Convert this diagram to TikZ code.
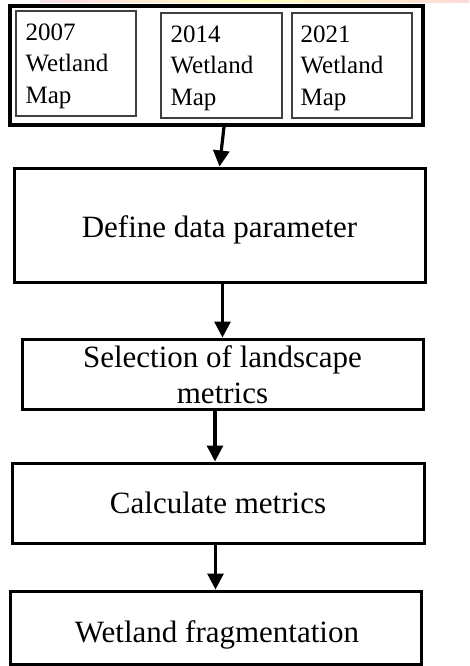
\documentclass[tikz,border=0pt]{standalone}
\usepackage{fontspec}
\setmainfont{Liberation Serif}
\usetikzlibrary{arrows.meta,calc}

\pgfdeclarehorizontalshading{topstrip}{100bp}{
  color(0bp)=(white);
  color(10bp)=(blue!15);
  color(30bp)=(red!12);
  color(50bp)=(yellow!25);
  color(75bp)=(red!15);
  color(100bp)=(red!20)}

\begin{document}
\begin{tikzpicture}[x=1pt,y=-1pt,
  bigbox/.style={draw,line width=3pt,inner sep=0pt,fill=white},
  mapbox/.style={draw=black!75,line width=1.3pt,inner sep=0pt},
  maptext/.style={anchor=north west,align=left,inner sep=0pt,
    font=\fontsize{25}{31.5}\selectfont},
  boxtext/.style={anchor=base,inner sep=0pt,align=center,
    font=\fontsize{31}{36}\selectfont},
  flow/.style={line width=3.2pt,-{Triangle[length=16pt,width=16pt]}}]
\useasboundingbox (0,0) rectangle (469,666);
\fill[white] (0,0) rectangle (469,666);
\shade[shading=topstrip] (40,0) rectangle (469,2.5);

% input maps
\node[bigbox,line width=3.6pt,minimum width=413pt,minimum height=119pt] (maps) at (216.5,65.5) {};
\node[mapbox,minimum width=120pt,minimum height=105pt] (m1) at (76,63.5) {};
\node[mapbox,minimum width=121pt,minimum height=105pt] (m2) at (221.5,65.5) {};
\node[mapbox,minimum width=120pt,minimum height=105pt] (m3) at (352,65.5) {};
\node[maptext] (t1) at ([xshift=10pt,yshift=-13pt]m1.north west) {2007\\Wetland\\Map};
\node[maptext] (t2) at ([xshift=10pt,yshift=-13pt]m2.north west) {2014\\Wetland\\Map};
\node[maptext] (t3) at ([xshift=9pt,yshift=-13pt]m3.north west) {2021\\Wetland\\Map};

% processing steps
\node[bigbox,minimum width=411pt,minimum height=114pt] (define) at (219.5,225) {};
\node[boxtext] (tdefine) at ([yshift=-12pt]define.center) {Define data parameter};

\node[bigbox,minimum width=401pt,minimum height=70pt] (sel) at (222.5,374) {};
\node[boxtext] (tsel) at ([yshift=-29pt]sel.center) {Selection of landscape\\metrics};

\node[bigbox,minimum width=412pt,minimum height=80pt] (calc) at (218,503) {};
\node[boxtext] (tcalc) at ([yshift=-10pt]calc.center) {Calculate metrics};

\node[bigbox,minimum width=411pt,minimum height=73pt] (final) at (215.5,627.5) {};
\node[boxtext] (tfinal) at ([xshift=1.5pt,yshift=-14.5pt]final.center) {Wetland fragmentation};

% connectors
\draw[flow] ([xshift=7.5pt]maps.south) -- (define.north);
\draw[flow] (define.south -| sel.north) -- (sel.north);
\draw[flow] ([xshift=-7.5pt]sel.south) -- ([xshift=-3pt]calc.north);
\draw[flow] (final.north |- calc.south) -- (final.north);
\end{tikzpicture}
\end{document}
